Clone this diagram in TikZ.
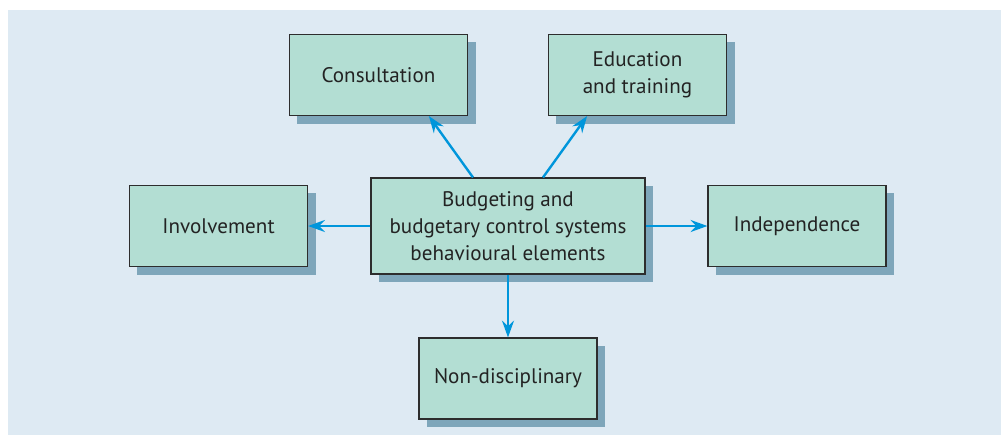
\documentclass[tikz,border=0pt]{standalone}
\usepackage{fontspec}
\setmainfont{PT Sans}
\usetikzlibrary{arrows.meta, shadows}
\definecolor{fundo}{RGB}{222,234,243}
\definecolor{menta}{RGB}{179,222,211}
\definecolor{sombra}{RGB}{126,166,186}
\definecolor{contorno}{RGB}{45,45,45}
\definecolor{azul}{RGB}{0,150,219}
\definecolor{texto}{RGB}{35,35,35}

\begin{document}
\begin{tikzpicture}[
    x=0.025cm, y=-0.025cm,
    caixa/.style={
        draw=contorno,
        line width=0.8pt,
        fill=menta,
        text=texto,
        align=center,
        font=\fontsize{15}{19}\selectfont,
        minimum width=4.45cm,
        minimum height=2.025cm,
        drop shadow={shadow xshift=0.2cm, shadow yshift=-0.2cm, fill=sombra, opacity=1}
    },
    seta/.style={
        -{Stealth[length=0.42cm, width=0.3cm, inset=0.14cm]},
        line width=1.7pt,
        draw=azul
    }
]

\useasboundingbox (0,0) rectangle (1001,435);
\fill[fundo] (8,10) rectangle (1001,435);

\node[caixa] (consult) at (378.5,75) {Consultation};
\node[caixa] (educ) at (637.5,75) {Education\\and training};
\node[caixa] (involve) at (218.5,226) {Involvement};
\node[caixa, minimum width=6.85cm, minimum height=2.4cm] (core) at (508,226)
{Budgeting and\\
budgetary control systems\\
behavioural elements};
\node[caixa] (indep) at (797,226) {Independence};
\node[caixa] (nondisc) at (508,378.5) {Non-disciplinary};

\draw[seta] ([xshift=-0.875cm]core.north) -- ([xshift=1.26cm]consult.south);
\draw[seta] ([xshift=0.875cm]core.north) -- ([xshift=-1.26cm]educ.south);
\draw[seta] (core) -- (involve);
\draw[seta] (core) -- (indep);
\draw[seta] (core) -- (nondisc);

\end{tikzpicture}
\end{document}
